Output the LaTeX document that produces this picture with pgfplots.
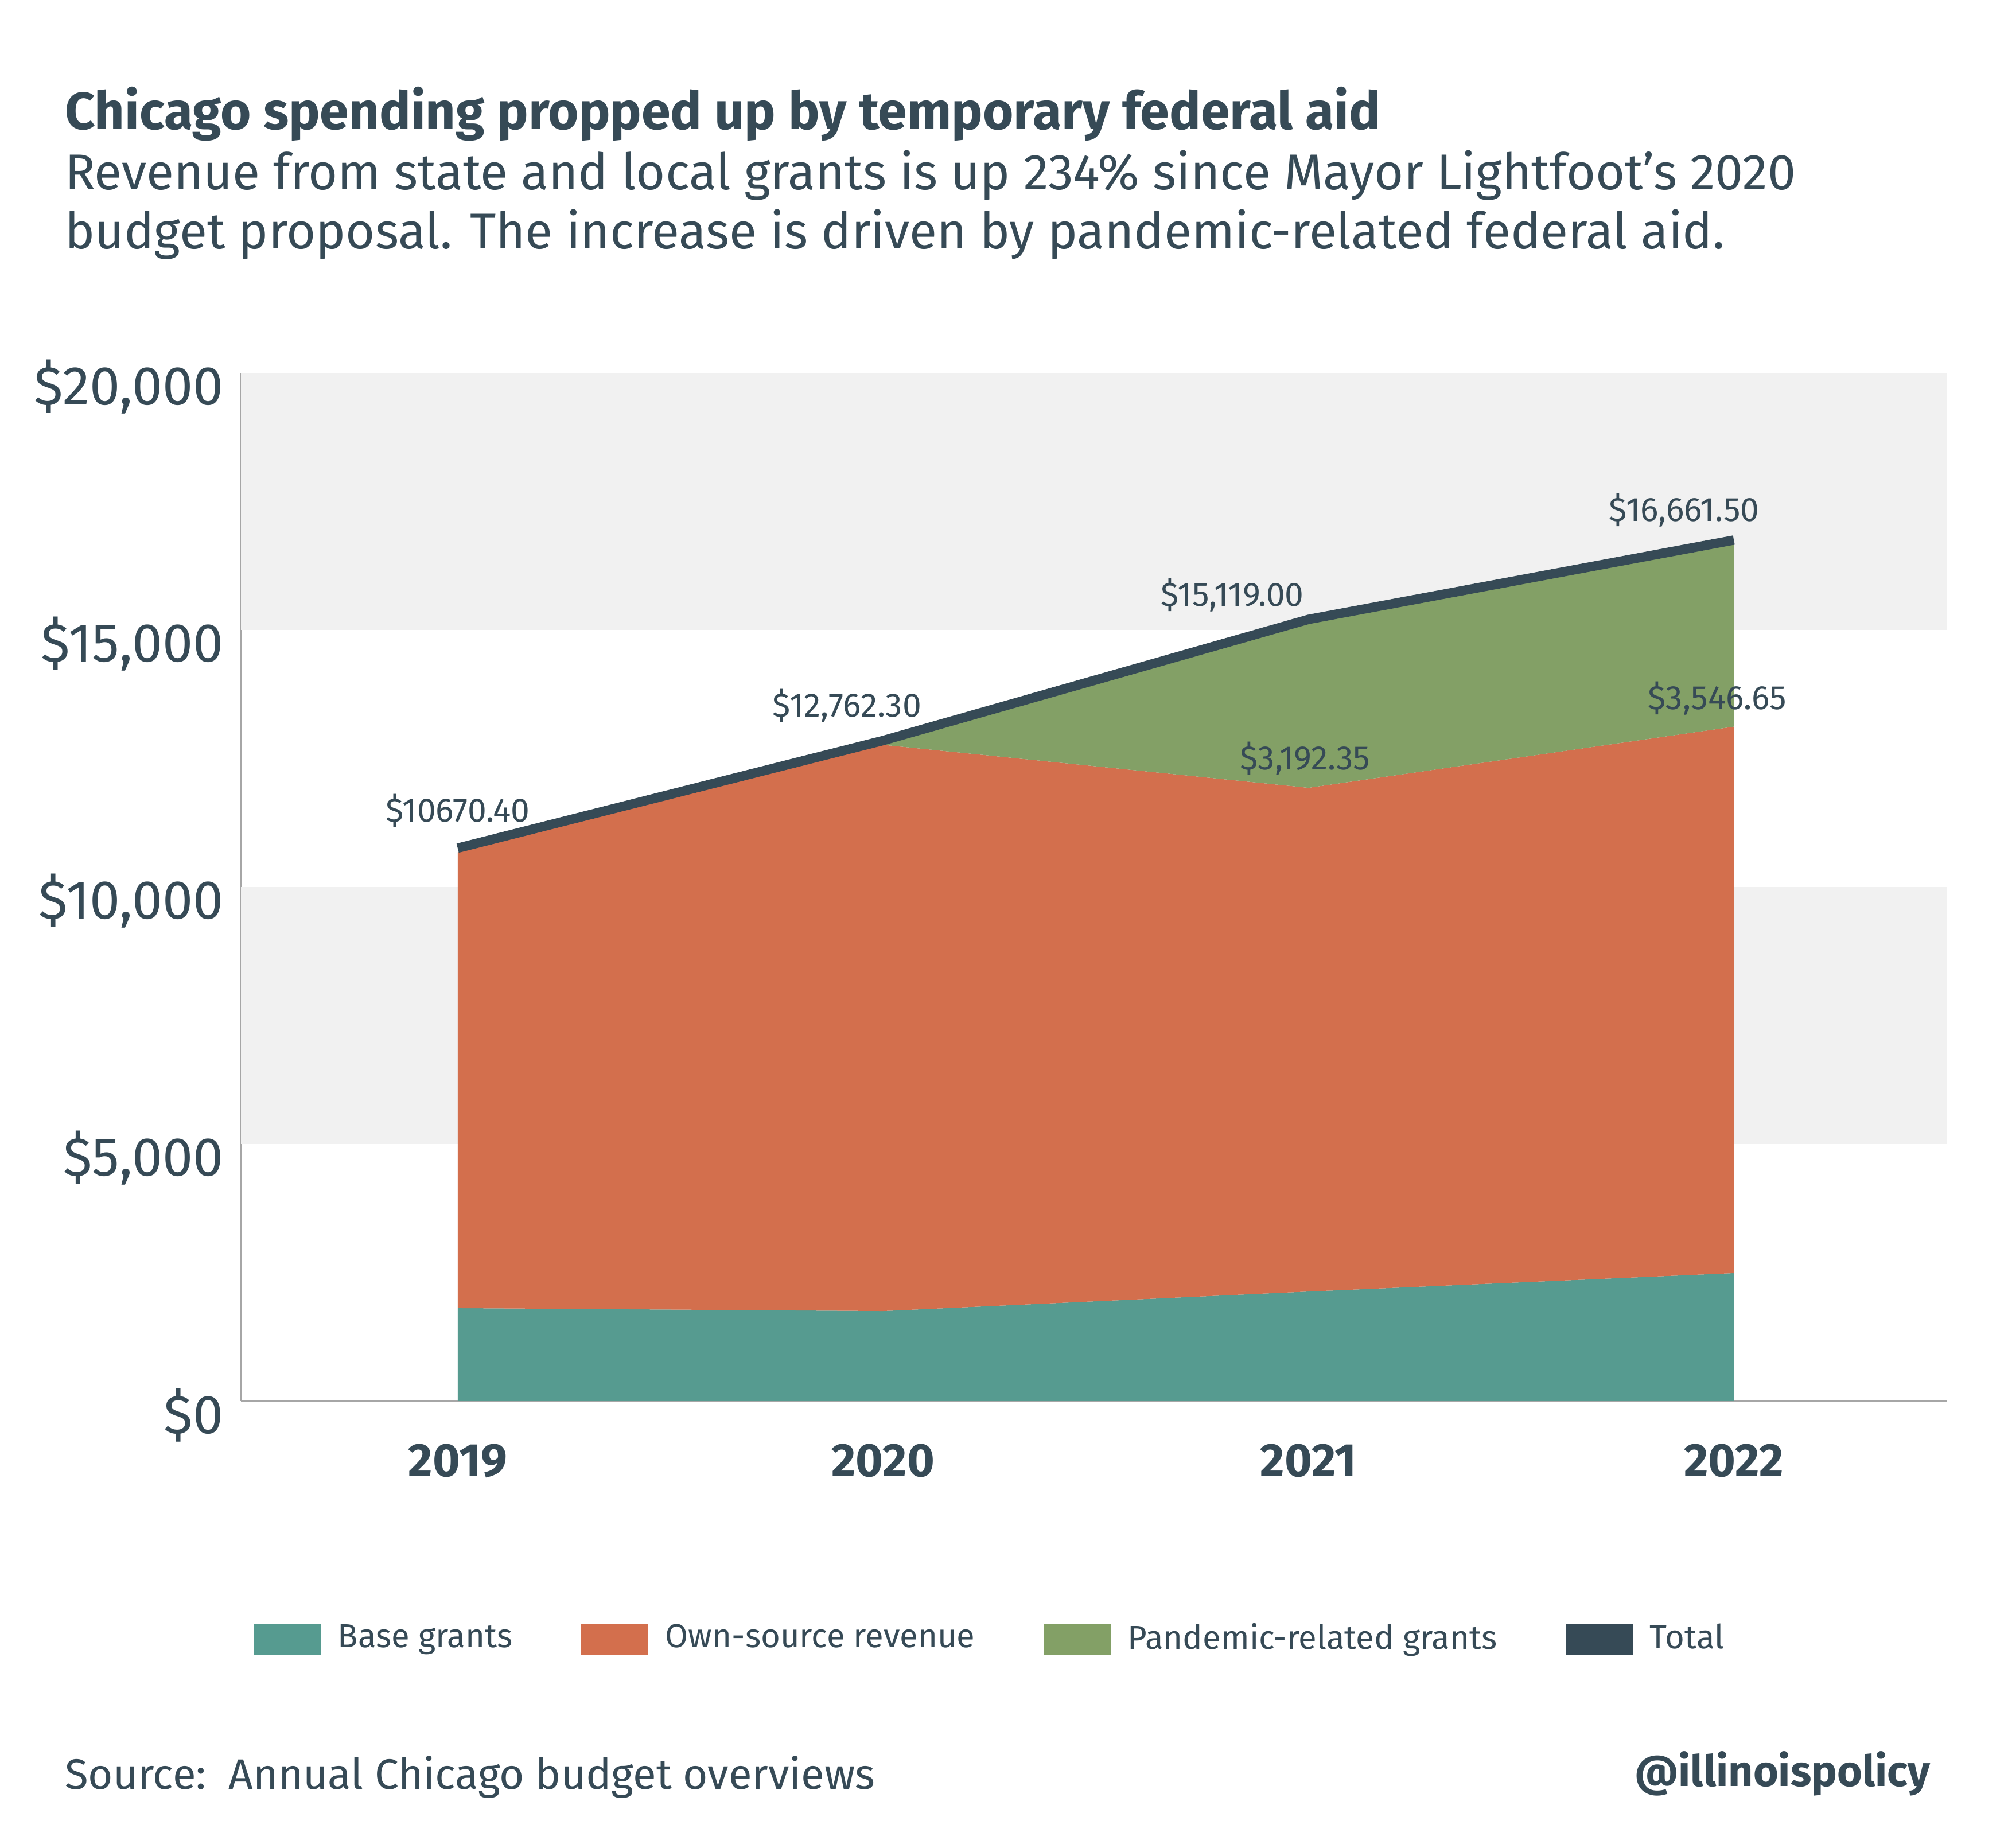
\documentclass[border=0pt]{standalone}
\usepackage{fontspec}
\setmainfont{Fira Sans}
\usepackage{pgfplots}
\pgfplotsset{compat=1.18}
\definecolor{tealc}{RGB}{86,155,144}
\definecolor{orangec}{RGB}{211,111,77}
\definecolor{greenc}{RGB}{131,160,102}
\definecolor{totalc}{RGB}{54,74,86}
\definecolor{txt}{RGB}{54,74,86}
\definecolor{band}{RGB}{241,241,241}
\definecolor{axisgray}{RGB}{166,166,166}
\begin{document}
\begin{tikzpicture}
\begin{axis}[
  scale only axis, width=399.6pt, height=240.9pt,
  xmin=-0.51, xmax=3.5, ymin=0, ymax=20000,
  axis x line*=bottom, axis y line*=left,
  axis line style={draw=axisgray, line width=0.55pt, -},
  xtick={0,1,2,3}, xticklabels={2019,2020,2021,2022},
  ytick={0,5000,10000,15000,20000},
  major tick length=0pt,
  scaled y ticks=false,
  yticklabel={\$\pgfmathprintnumber[1000 sep={,},assume math mode=true]{\tick}},
  yticklabel style={font=\fontsize{12.8}{14}\selectfont, text=txt, anchor=east, xshift=-0.5pt, yshift=-3.3pt},
  xticklabel style={font=\bfseries\fontsize{11}{12}\selectfont, text=txt, yshift=-6.5pt},
  legend style={at={(0.441,-0.2316)}, anchor=center, draw=none, fill=none,
    legend columns=4, font=\fontsize{7.8}{9}\selectfont, text=txt,
    /tikz/every even column/.append style={column sep=14pt},
    /tikz/every odd column/.append style={column sep=2pt}},
  legend image code/.code={\fill[#1,draw=none] (0pt,-3.7pt) rectangle (15.8pt,3.7pt);},
  clip=false,
]
\path (rel axis cs:-0.14114,1.36239) rectangle (rel axis cs:1.03604,-0.43462);
\fill[band] (axis cs:-0.51,15000) rectangle (axis cs:3.5,20000);
\fill[band] (axis cs:-0.51,5000) rectangle (axis cs:3.5,10000);
\addplot[stack plots=y, fill=tealc, draw=none] coordinates {(0,1808) (1,1751) (2,2130) (3,2488)} \closedcycle;
\addlegendentry{Base grants}
\addplot[stack plots=y, fill=orangec, draw=none] coordinates {(0,8862.4) (1,11011.3) (2,9796.65) (3,10626.85)} \closedcycle;
\addlegendentry{Own-source revenue}
\addplot[stack plots=y, fill=greenc, draw=none] coordinates {(0,0) (1,0) (2,3192.35) (3,3546.65)} \closedcycle;
\addlegendentry{Pandemic-related grants}
\addplot[draw=totalc, line width=2.2pt, yshift=1pt, forget plot] coordinates {(0,10670.4) (1,12762.3) (2,15119.0) (3,16661.5)};
\addlegendimage{fill=totalc}
\addlegendentry{Total}
\node[font=\fontsize{7.9}{9}\selectfont, text=txt] at (axis cs:0,11480) {\$10670.40};
\node[font=\fontsize{7.9}{9}\selectfont, text=txt] at (axis cs:0.915,13520) {\$12,762.30};
\node[font=\fontsize{7.9}{9}\selectfont, text=txt] at (axis cs:1.821,15670) {\$15,119.00};
\node[font=\fontsize{7.9}{9}\selectfont, text=txt] at (axis cs:2.883,17330) {\$16,661.50};
\node[font=\fontsize{7.9}{9}\selectfont, text=txt] at (axis cs:1.992,12500) {\$3,192.35};
\node[font=\fontsize{7.9}{9}\selectfont, text=txt] at (axis cs:2.961,13670) {\$3,546.65};
\node[anchor=base west, font=\bfseries\fontsize{12.3}{14}\selectfont, text=txt, inner sep=0pt] at (rel axis cs:-0.10360,1.23661) {Chicago spending propped up by temporary federal aid};
\node[anchor=base west, font=\fontsize{11.8}{14}\selectfont, text=txt, inner sep=0pt] at (rel axis cs:-0.10360,1.17808) {Revenue from state and local grants is up 234\% since Mayor Lightfoot's 2020};
\node[anchor=base west, font=\fontsize{11.8}{14}\selectfont, text=txt, inner sep=0pt] at (rel axis cs:-0.10360,1.12080) {budget proposal. The increase is driven by pandemic-related federal aid.};
\node[anchor=base west, font=\fontsize{10}{12}\selectfont, text=txt, inner sep=0pt] at (rel axis cs:-0.10360,-0.37733) {Source:\ \ Annual Chicago budget overviews};
\node[anchor=base east, font=\bfseries\fontsize{10.1}{12}\selectfont, text=txt, inner sep=0pt] at (rel axis cs:0.99099,-0.37484) {@illinoispolicy};
\end{axis}
\end{tikzpicture}
\end{document}
